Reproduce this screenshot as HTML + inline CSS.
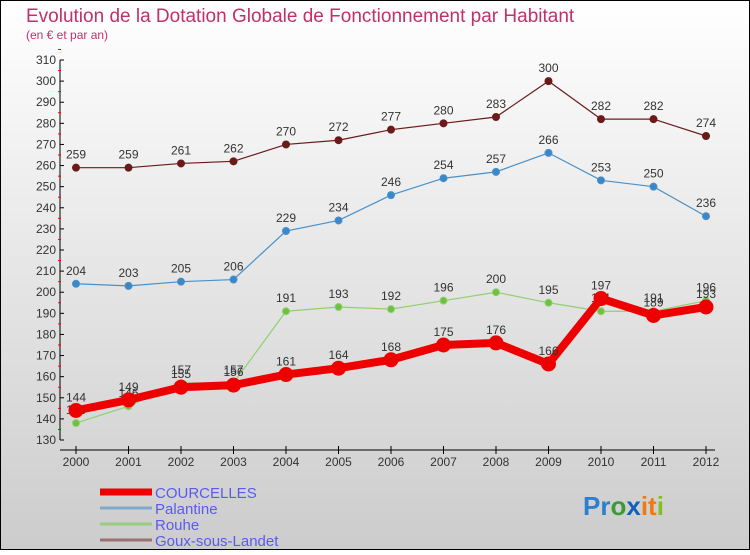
<!DOCTYPE html>
<html><head><meta charset="utf-8"><style>
body{margin:0;width:750px;height:550px;overflow:hidden;font-family:"Liberation Sans",sans-serif}
</style></head><body>
<svg id="c" width="750" height="550" xmlns="http://www.w3.org/2000/svg">
<defs><linearGradient id="bg" x1="0" y1="0" x2="0" y2="1"><stop offset="0" stop-color="#ffffff"/><stop offset="1" stop-color="#cccccc"/></linearGradient></defs>
<rect x="0.5" y="0.5" width="749" height="549" fill="url(#bg)" stroke="#000"/>
<text x="26" y="22" font-size="19" fill="#c0306a">Evolution de la Dotation Globale de Fonctionnement par Habitant</text>
<text x="26" y="39" font-size="12" fill="#c0306a">(en € et par an)</text>
<g id="axes"></g><g id="series"></g><g id="legend"></g>
<text x="583" y="515" font-size="26" font-weight="bold"><tspan fill="#2a7fd0">Pr</tspan><tspan fill="#3a9a3a">o</tspan><tspan fill="#1060c0">x</tspan><tspan fill="#f07a10">it</tspan><tspan fill="#80c020">i</tspan></text>
</svg>
<script>
const years=[2000,2001,2002,2003,2004,2005,2006,2007,2008,2009,2010,2011,2012];
const courcelles=[144,149,155,156,161,164,168,175,176,166,197,189,193];
const palantine=[204,203,205,206,229,234,246,254,257,266,253,250,236];
const rouhe=[138,146,157,157,191,193,192,196,200,195,191,191,196];
const goux=[259,259,261,262,270,272,277,280,283,300,282,282,274];
const yTicks=[130,140,150,160,170,180,190,200,210,220,230,240,250,260,270,280,290,300,310];
const NS="http://www.w3.org/2000/svg";
const x=i=>76+i*52.5;
const y=v=>440-(v-130)*380/180;
function mk(t,a,p){const e=document.createElementNS(NS,t);for(const k in a)e.setAttribute(k,a[k]);p.appendChild(e);return e;}
const ax=document.getElementById('axes');
const yl=mk('line',{x1:60,y1:60,x2:60,y2:440,stroke:'#000'},ax);


yTicks.forEach(v=>{
 mk('line',{x1:60,x2:64,y1:y(v),y2:y(v),stroke:'#000'},ax);
 mk('line',{x1:58,x2:61,y1:y(v+5),y2:y(v+5),stroke:'#f00'},ax);
 const t=mk('text',{x:56,y:y(v)+4,'text-anchor':'end','font-size':12,fill:'#333'},ax);t.textContent=v;
 
 
});
const xl=mk('line',{x1:60,y1:450,x2:715,y2:450,stroke:'#000'},ax);


years.forEach((yr,i)=>{
 mk('line',{x1:x(i),x2:x(i),y1:446,y2:454,stroke:'#000'},ax);
 const t=mk('text',{x:x(i),y:466,'text-anchor':'middle','font-size':12,fill:'#333'},ax);t.textContent=yr;
 
 
});
const sg=document.getElementById('series');
function draw(data,color,w,r,name,pt){
 const g=mk('g',{},sg);
 
 
 mk('polyline',{points:data.map((v,i)=>x(i)+','+y(v)).join(' '),fill:'none',stroke:color,'stroke-width':w},g);
 data.forEach((v,i)=>{
  const c=mk('circle',{cx:x(i),cy:y(v),r:r,fill:pt,stroke:color,'stroke-width':1},g);
  
  
  const t=mk('text',{x:x(i),y:y(v)-9,'text-anchor':'middle','font-size':12,fill:'#333'},g);t.textContent=v;
  
  
 });
}
draw(goux,'#6b1a1a',1.2,3.5,'goux-sous-landet','#6b1a1a');
draw(palantine,'#4a90c8',1.2,3.5,'palantine','#3a88cc');
draw(rouhe,'#90d070',1.2,3.5,'rouhe','#70c040');
draw(courcelles,'#ee0000',8,7,'courcelles','#ee0000');
const lg=document.getElementById('legend');
const items=[['COURCELLES','#ee0000',7],['Palantine','#80a8c8',3],['Rouhe','#98cc80',3],['Goux-sous-Landet','#9a7070',3]];
items.forEach((it,k)=>{
 const yy=492+k*16;
 const g=mk('g',{},lg);
 
 
 mk('line',{x1:100,x2:152,y1:yy,y2:yy,stroke:it[1],'stroke-width':it[2]},g);
 const t=mk('text',{x:155,y:yy+6,'font-size':15,fill:'#5a5af0'},g);t.textContent=it[0];
});
</script>
</body></html>
